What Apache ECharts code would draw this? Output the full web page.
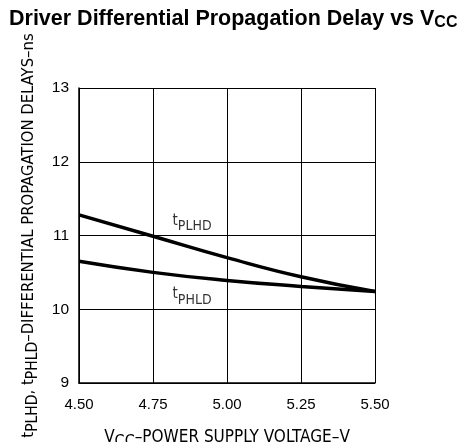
<!DOCTYPE html>
<html><head><meta charset="utf-8">
<script src="https://cdn.jsdelivr.net/npm/echarts@6/dist/echarts.min.js"></script>
<style>html,body{margin:0;padding:0;background:#fff}#c{width:465px;height:442px}</style>
</head><body><div id="c"></div>
<script>
const voltages = [4.50, 4.75, 5.00, 5.25, 5.50];
const tPLHD = [11.28, 10.99, 10.70, 10.44, 10.24];
const tPHLD = [10.65, 10.50, 10.39, 10.31, 10.24];
const xTicks = [4.50, 4.75, 5.00, 5.25, 5.50];
const yTicks = [9, 10, 11, 12, 13];
const curveLabels = [
  {text: '{v|t}{s|PLHD}', at: [4.882, 11.20]},
  {text: '{v|t}{s|PHLD}', at: [4.882, 10.20]}
];

const FONT = 'DejaVu Sans Condensed';
const chart = echarts.init(document.getElementById('c'));
const sub = {fontSize: 16, padding: [9, 0, 0, 0], fontFamily: FONT, color: '#000'};
const base = {fontSize: 17, fontFamily: FONT, color: '#000'};
const ysub = {fontSize: 15.5, padding: [9, 0, 0, 0], fontFamily: FONT, color: '#000'};
const ybase = {fontSize: 16.5, fontFamily: FONT, color: '#000'};
const lsub = {fontSize: 14, padding: [12, 0, 0, 0], fontFamily: FONT, color: '#000'};
const lbase = {fontSize: 15, fontFamily: FONT, color: '#000'};
chart.setOption({
  animation: false,
  title: {
    text: '{a|Driver Differential Propagation Delay vs V}{s|CC}',
    left: 4, top: 3,
    textStyle: {
      rich: {
        a: {fontSize: 21.5, fontWeight: 'bold', fontFamily: 'Liberation Sans', color: '#000'},
        s: {fontSize: 16, fontWeight: 'bold', fontFamily: 'Liberation Sans', color: '#000', padding: [7, 0, 0, 0]}
      }
    }
  },
  grid: {left: 79, right: 90, top: 88, bottom: 59, containLabel: false, outerBoundsMode: 'none'},
  xAxis: {
    type: 'value', min: 4.5, max: 5.5, interval: 0.25,
    name: '{v|V}{s|CC}{v|–POWER SUPPLY VOLTAGE–V}',
    nameLocation: 'middle', nameGap: 42,
    nameTextStyle: {rich: {v: base, s: sub}},
    axisLine: {lineStyle: {color: '#000', width: 1.5}},
    axisTick: {show: false},
    axisLabel: {formatter: v => xTicks.some(t => Math.abs(t - v) < 1e-9) ? v.toFixed(2) : '', fontSize: 15, fontFamily: 'Liberation Sans', color: '#000', margin: 14},
    splitLine: {show: true, lineStyle: {color: '#000', width: 1}}
  },
  yAxis: {
    type: 'value', min: 9, max: 13, interval: 1,
    name: '{v|t}{s|PLHD}{v|, t}{s|PHLD}{v|–DIFFERENTIAL PROPAGATION DELAYS–ns}',
    nameLocation: 'middle', nameGap: 38, nameRotate: 90,
    nameTextStyle: {rich: {v: ybase, s: ysub}},
    axisLine: {show: true, lineStyle: {color: '#000', width: 1.5}},
    axisTick: {show: false},
    axisLabel: {formatter: v => yTicks.includes(v) ? String(v) : '', fontSize: 15.5, fontFamily: 'Liberation Sans', color: '#000', margin: 10},
    splitLine: {show: true, lineStyle: {color: '#000', width: 1}}
  },
  series: [
    {
      type: 'line', name: 'tPLHD', smooth: true, symbol: 'none',
      data: voltages.map((v, i) => [v, tPLHD[i]]),
      lineStyle: {color: '#000', width: 3.5}
    },
    {
      type: 'line', name: 'tPHLD', smooth: true, symbol: 'none',
      data: voltages.map((v, i) => [v, tPHLD[i]]),
      lineStyle: {color: '#000', width: 3.5}
    },
    {
      type: 'scatter', symbolSize: 1, itemStyle: {color: 'rgba(0,0,0,0)'},
      data: curveLabels.map(l => ({value: l.at, label: {show: true, position: 'inside', formatter: l.text, rich: {v: lbase, s: lsub}}})),
      silent: true
    }
  ]
});
</script></body></html>
